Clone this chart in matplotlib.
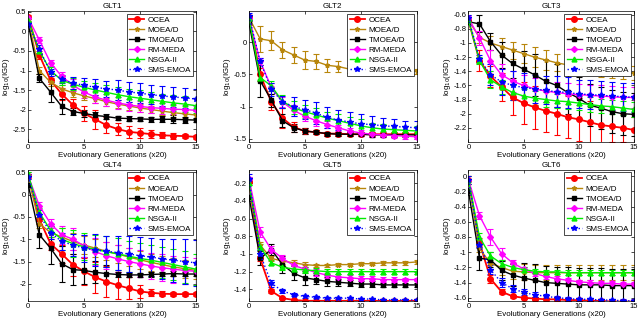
import numpy as np
import matplotlib
matplotlib.use("Agg")
import matplotlib.pyplot as plt
from matplotlib.lines import Line2D

plt.rcParams['font.family'] = ['Liberation Sans', 'DejaVu Sans']

gens = list(range(16))
algorithms = ["OCEA", "MOEA/D", "TMOEA/D", "RM-MEDA", "NSGA-II", "SMS-EMOA"]
titles = ["GLT1", "GLT2", "GLT3", "GLT4", "GLT5", "GLT6"]

# ---- GLT1 ----
glt1_mean = {
    "OCEA":     [0.38, -0.6, -1.25, -1.6, -1.88, -2.1, -2.25, -2.4, -2.5, -2.57, -2.6, -2.63, -2.66, -2.67, -2.68, -2.7],
    "MOEA/D":   [0.3, -1.0, -1.3, -1.47, -1.57, -1.65, -1.72, -1.8, -1.86, -1.91, -1.96, -2.0, -2.04, -2.08, -2.11, -2.14],
    "TMOEA/D":  [0.2, -1.2, -1.55, -1.92, -2.05, -2.1, -2.15, -2.18, -2.22, -2.23, -2.24, -2.25, -2.25, -2.25, -2.26, -2.27],
    "RM-MEDA":  [0.35, -0.22, -0.8, -1.15, -1.38, -1.55, -1.68, -1.76, -1.83, -1.88, -1.92, -1.95, -1.97, -1.99, -2.0, -2.02],
    "NSGA-II":  [0.3, -0.5, -1.0, -1.25, -1.35, -1.43, -1.5, -1.56, -1.62, -1.67, -1.71, -1.75, -1.79, -1.83, -1.86, -1.9],
    "SMS-EMOA": [0.2, -0.45, -1.05, -1.22, -1.32, -1.38, -1.43, -1.47, -1.5, -1.55, -1.58, -1.62, -1.65, -1.68, -1.7, -1.73],
}
glt1_err = {
    "OCEA":     [0.05, 0.1, 0.1, 0.15, 0.15, 0.2, 0.25, 0.2, 0.15, 0.15, 0.12, 0.1, 0.08, 0.08, 0.06, 0.05],
    "MOEA/D":   [0.03, 0.08, 0.1, 0.1, 0.1, 0.1, 0.1, 0.1, 0.1, 0.1, 0.1, 0.1, 0.1, 0.1, 0.1, 0.1],
    "TMOEA/D":  [0.03, 0.1, 0.25, 0.2, 0.1, 0.08, 0.08, 0.06, 0.06, 0.06, 0.06, 0.06, 0.08, 0.1, 0.08, 0.06],
    "RM-MEDA":  [0.03, 0.08, 0.08, 0.12, 0.15, 0.15, 0.15, 0.15, 0.15, 0.15, 0.15, 0.15, 0.15, 0.12, 0.12, 0.1],
    "NSGA-II":  [0.03, 0.08, 0.1, 0.12, 0.15, 0.15, 0.18, 0.2, 0.2, 0.2, 0.2, 0.2, 0.2, 0.2, 0.2, 0.2],
    "SMS-EMOA": [0.03, 0.1, 0.1, 0.1, 0.15, 0.2, 0.2, 0.2, 0.25, 0.25, 0.25, 0.25, 0.25, 0.25, 0.25, 0.25],
}
# ---- GLT2 ----
glt2_mean = {
    "OCEA":     [0.39, -0.5, -0.93, -1.18, -1.32, -1.38, -1.4, -1.42, -1.42, -1.43, -1.43, -1.43, -1.43, -1.43, -1.43, -1.43],
    "MOEA/D":   [0.38, 0.05, 0.02, -0.12, -0.2, -0.28, -0.3, -0.36, -0.38, -0.42, -0.43, -0.43, -0.44, -0.45, -0.45, -0.45],
    "TMOEA/D":  [0.3, -0.6, -0.9, -1.22, -1.33, -1.38, -1.4, -1.42, -1.43, -1.43, -1.43, -1.44, -1.44, -1.44, -1.44, -1.44],
    "RM-MEDA":  [0.38, -0.3, -0.7, -0.93, -1.06, -1.15, -1.22, -1.28, -1.33, -1.38, -1.41, -1.43, -1.44, -1.45, -1.46, -1.47],
    "NSGA-II":  [0.38, -0.55, -0.68, -0.92, -1.02, -1.08, -1.13, -1.18, -1.22, -1.26, -1.3, -1.33, -1.35, -1.36, -1.37, -1.38],
    "SMS-EMOA": [0.4, -0.3, -0.73, -0.93, -1.0, -1.05, -1.1, -1.17, -1.21, -1.24, -1.27, -1.28, -1.3, -1.31, -1.32, -1.33],
}
glt2_err = {
    "OCEA":     [0.03, 0.1, 0.12, 0.15, 0.08, 0.04, 0.03, 0.03, 0.03, 0.03, 0.03, 0.03, 0.03, 0.03, 0.03, 0.03],
    "MOEA/D":   [0.03, 0.2, 0.15, 0.12, 0.12, 0.14, 0.12, 0.1, 0.08, 0.06, 0.05, 0.05, 0.04, 0.04, 0.04, 0.04],
    "TMOEA/D":  [0.03, 0.25, 0.1, 0.1, 0.06, 0.04, 0.03, 0.03, 0.03, 0.03, 0.03, 0.03, 0.03, 0.03, 0.03, 0.03],
    "RM-MEDA":  [0.03, 0.05, 0.06, 0.08, 0.08, 0.08, 0.08, 0.06, 0.05, 0.05, 0.05, 0.04, 0.04, 0.04, 0.04, 0.03],
    "NSGA-II":  [0.03, 0.05, 0.08, 0.1, 0.1, 0.1, 0.1, 0.1, 0.1, 0.1, 0.1, 0.08, 0.08, 0.08, 0.07, 0.07],
    "SMS-EMOA": [0.05, 0.05, 0.1, 0.1, 0.15, 0.15, 0.17, 0.17, 0.15, 0.15, 0.15, 0.13, 0.12, 0.12, 0.1, 0.1],
}
# ---- GLT3 ----
glt3_mean = {
    "OCEA":     [-0.68, -1.25, -1.47, -1.62, -1.77, -1.85, -1.91, -1.96, -2.0, -2.05, -2.08, -2.12, -2.16, -2.18, -2.2, -2.23],
    "MOEA/D":   [-0.68, -0.92, -1.0, -1.05, -1.1, -1.15, -1.2, -1.24, -1.28, -1.31, -1.33, -1.36, -1.38, -1.39, -1.41, -1.43],
    "TMOEA/D":  [-0.7, -0.73, -0.98, -1.17, -1.29, -1.37, -1.45, -1.54, -1.6, -1.7, -1.78, -1.88, -1.92, -1.97, -2.0, -2.01],
    "RM-MEDA":  [-0.65, -0.93, -1.25, -1.45, -1.54, -1.6, -1.65, -1.68, -1.7, -1.72, -1.73, -1.74, -1.75, -1.76, -1.77, -1.77],
    "NSGA-II":  [-0.68, -1.25, -1.52, -1.62, -1.7, -1.75, -1.78, -1.8, -1.82, -1.83, -1.85, -1.87, -1.89, -1.9, -1.92, -1.94],
    "SMS-EMOA": [-0.65, -1.22, -1.45, -1.55, -1.6, -1.63, -1.65, -1.67, -1.69, -1.7, -1.72, -1.73, -1.74, -1.75, -1.76, -1.77],
}
glt3_err = {
    "OCEA":     [0.03, 0.15, 0.15, 0.2, 0.25, 0.3, 0.3, 0.3, 0.3, 0.3, 0.3, 0.3, 0.25, 0.22, 0.2, 0.18],
    "MOEA/D":   [0.03, 0.08, 0.1, 0.12, 0.12, 0.14, 0.14, 0.14, 0.12, 0.12, 0.1, 0.1, 0.1, 0.1, 0.1, 0.1],
    "TMOEA/D":  [0.03, 0.12, 0.12, 0.18, 0.2, 0.25, 0.3, 0.3, 0.3, 0.3, 0.3, 0.3, 0.3, 0.3, 0.3, 0.3],
    "RM-MEDA":  [0.03, 0.1, 0.15, 0.15, 0.15, 0.15, 0.15, 0.15, 0.15, 0.15, 0.15, 0.15, 0.15, 0.15, 0.15, 0.15],
    "NSGA-II":  [0.03, 0.05, 0.12, 0.1, 0.1, 0.1, 0.1, 0.1, 0.1, 0.1, 0.1, 0.1, 0.1, 0.1, 0.1, 0.1],
    "SMS-EMOA": [0.05, 0.05, 0.15, 0.18, 0.2, 0.2, 0.2, 0.2, 0.22, 0.22, 0.2, 0.2, 0.2, 0.2, 0.2, 0.2],
}
# ---- GLT4 ----
glt4_mean = {
    "OCEA":     [0.42, -0.55, -1.1, -1.33, -1.57, -1.72, -1.85, -1.95, -2.03, -2.1, -2.17, -2.2, -2.22, -2.23, -2.23, -2.23],
    "MOEA/D":   [0.4, -0.65, -0.85, -0.95, -1.05, -1.13, -1.2, -1.27, -1.33, -1.4, -1.46, -1.52, -1.57, -1.62, -1.66, -1.7],
    "TMOEA/D":  [0.22, -0.9, -1.2, -1.55, -1.68, -1.7, -1.74, -1.77, -1.79, -1.8, -1.8, -1.79, -1.78, -1.77, -1.78, -1.78],
    "RM-MEDA":  [0.42, -0.25, -0.65, -0.9, -1.0, -1.15, -1.28, -1.37, -1.44, -1.5, -1.55, -1.6, -1.64, -1.67, -1.7, -1.72],
    "NSGA-II":  [0.45, -0.4, -0.8, -1.0, -1.1, -1.17, -1.23, -1.28, -1.33, -1.38, -1.43, -1.47, -1.52, -1.57, -1.62, -1.67],
    "SMS-EMOA": [0.4, -0.45, -0.85, -1.05, -1.13, -1.2, -1.24, -1.27, -1.3, -1.33, -1.37, -1.4, -1.44, -1.47, -1.5, -1.53],
}
glt4_err = {
    "OCEA":     [0.05, 0.12, 0.15, 0.2, 0.25, 0.3, 0.35, 0.35, 0.3, 0.25, 0.15, 0.08, 0.06, 0.05, 0.05, 0.05],
    "MOEA/D":   [0.05, 0.1, 0.15, 0.2, 0.2, 0.2, 0.2, 0.2, 0.2, 0.2, 0.2, 0.2, 0.2, 0.2, 0.2, 0.2],
    "TMOEA/D":  [0.05, 0.3, 0.35, 0.4, 0.35, 0.3, 0.25, 0.2, 0.05, 0.05, 0.05, 0.05, 0.05, 0.05, 0.05, 0.05],
    "RM-MEDA":  [0.05, 0.08, 0.1, 0.2, 0.25, 0.25, 0.3, 0.3, 0.3, 0.3, 0.3, 0.3, 0.3, 0.3, 0.3, 0.3],
    "NSGA-II":  [0.05, 0.1, 0.15, 0.25, 0.3, 0.3, 0.33, 0.35, 0.35, 0.35, 0.35, 0.35, 0.35, 0.35, 0.35, 0.35],
    "SMS-EMOA": [0.05, 0.1, 0.15, 0.2, 0.25, 0.3, 0.35, 0.35, 0.38, 0.4, 0.42, 0.42, 0.45, 0.48, 0.5, 0.52],
}
# ---- GLT5 ----
glt5_mean = {
    "OCEA":     [-0.18, -1.05, -1.42, -1.5, -1.52, -1.53, -1.53, -1.53, -1.53, -1.53, -1.53, -1.53, -1.53, -1.53, -1.53, -1.53],
    "MOEA/D":   [-0.15, -0.9, -1.05, -1.08, -1.1, -1.12, -1.13, -1.13, -1.12, -1.12, -1.11, -1.11, -1.1, -1.1, -1.1, -1.09],
    "TMOEA/D":  [-0.35, -1.05, -0.95, -1.12, -1.22, -1.27, -1.29, -1.31, -1.32, -1.33, -1.34, -1.34, -1.35, -1.35, -1.35, -1.35],
    "RM-MEDA":  [-0.15, -0.75, -0.95, -1.05, -1.13, -1.17, -1.21, -1.24, -1.26, -1.27, -1.28, -1.28, -1.29, -1.29, -1.29, -1.29],
    "NSGA-II":  [-0.2, -0.92, -1.1, -1.15, -1.17, -1.18, -1.19, -1.2, -1.2, -1.2, -1.2, -1.2, -1.2, -1.2, -1.2, -1.2],
    "SMS-EMOA": [-0.15, -1.0, -1.33, -1.42, -1.46, -1.48, -1.49, -1.5, -1.5, -1.5, -1.51, -1.51, -1.52, -1.52, -1.52, -1.52],
}
glt5_err = {
    "OCEA":     [0.02, 0.03, 0.02, 0.01, 0.01, 0.01, 0.01, 0.01, 0.01, 0.01, 0.01, 0.01, 0.01, 0.01, 0.01, 0.01],
    "MOEA/D":   [0.02, 0.03, 0.03, 0.03, 0.03, 0.03, 0.02, 0.02, 0.02, 0.02, 0.02, 0.02, 0.02, 0.02, 0.02, 0.02],
    "TMOEA/D":  [0.02, 0.08, 0.06, 0.1, 0.08, 0.08, 0.05, 0.05, 0.04, 0.03, 0.03, 0.03, 0.02, 0.02, 0.02, 0.02],
    "RM-MEDA":  [0.02, 0.06, 0.04, 0.04, 0.04, 0.04, 0.04, 0.03, 0.03, 0.03, 0.03, 0.03, 0.03, 0.03, 0.02, 0.02],
    "NSGA-II":  [0.02, 0.03, 0.03, 0.03, 0.03, 0.03, 0.03, 0.03, 0.03, 0.03, 0.03, 0.03, 0.03, 0.03, 0.03, 0.03],
    "SMS-EMOA": [0.05, 0.04, 0.04, 0.02, 0.02, 0.02, 0.01, 0.01, 0.01, 0.01, 0.01, 0.01, 0.01, 0.01, 0.01, 0.01],
}
# ---- GLT6 ----
glt6_mean = {
    "OCEA":     [-0.05, -0.87, -1.35, -1.52, -1.58, -1.6, -1.61, -1.62, -1.62, -1.63, -1.63, -1.64, -1.64, -1.65, -1.65, -1.65],
    "MOEA/D":   [-0.05, -0.95, -1.15, -1.2, -1.25, -1.26, -1.27, -1.27, -1.27, -1.27, -1.27, -1.27, -1.27, -1.27, -1.27, -1.27],
    "TMOEA/D":  [-0.2, -1.08, -1.1, -1.24, -1.3, -1.34, -1.37, -1.4, -1.41, -1.42, -1.43, -1.43, -1.43, -1.44, -1.44, -1.44],
    "RM-MEDA":  [-0.05, -0.52, -0.8, -1.02, -1.14, -1.22, -1.28, -1.32, -1.35, -1.37, -1.39, -1.4, -1.41, -1.41, -1.42, -1.42],
    "NSGA-II":  [-0.05, -0.8, -1.05, -1.15, -1.2, -1.23, -1.25, -1.26, -1.26, -1.27, -1.27, -1.27, -1.27, -1.27, -1.27, -1.27],
    "SMS-EMOA": [-0.05, -0.9, -1.23, -1.4, -1.48, -1.53, -1.56, -1.58, -1.6, -1.61, -1.62, -1.62, -1.63, -1.63, -1.64, -1.64],
}
glt6_err = {
    "OCEA":     [0.05, 0.05, 0.05, 0.03, 0.02, 0.02, 0.02, 0.02, 0.02, 0.02, 0.02, 0.02, 0.02, 0.02, 0.02, 0.02],
    "MOEA/D":   [0.05, 0.05, 0.08, 0.1, 0.1, 0.1, 0.1, 0.1, 0.1, 0.1, 0.1, 0.1, 0.1, 0.1, 0.1, 0.1],
    "TMOEA/D":  [0.05, 0.15, 0.1, 0.12, 0.15, 0.2, 0.22, 0.22, 0.22, 0.22, 0.22, 0.22, 0.22, 0.22, 0.22, 0.22],
    "RM-MEDA":  [0.05, 0.05, 0.1, 0.08, 0.04, 0.03, 0.03, 0.03, 0.03, 0.03, 0.03, 0.03, 0.03, 0.03, 0.03, 0.03],
    "NSGA-II":  [0.05, 0.05, 0.05, 0.05, 0.04, 0.03, 0.03, 0.03, 0.03, 0.03, 0.03, 0.03, 0.03, 0.03, 0.03, 0.03],
    "SMS-EMOA": [0.05, 0.05, 0.06, 0.06, 0.05, 0.04, 0.03, 0.03, 0.02, 0.02, 0.02, 0.02, 0.02, 0.02, 0.02, 0.02],
}

means = [glt1_mean, glt2_mean, glt3_mean, glt4_mean, glt5_mean, glt6_mean]
errs = [glt1_err, glt2_err, glt3_err, glt4_err, glt5_err, glt6_err]
ylims = [(-2.83, 0.52), (-1.55, 0.48), (-2.4, -0.55), (-2.38, 0.55), (-1.53, -0.05), (-1.64, 0.08)]
yticks = [
    [-2.5, -2, -1.5, -1, -0.5, 0, 0.5],
    [-1.5, -1, -0.5, 0],
    [-2.2, -2, -1.8, -1.6, -1.4, -1.2, -1, -0.8, -0.6],
    [-2, -1.5, -1, -0.5, 0, 0.5],
    [-1.4, -1.2, -1, -0.8, -0.6, -0.4, -0.2],
    [-1.6, -1.4, -1.2, -1, -0.8, -0.6, -0.4, -0.2, 0],
]

styles = {
    "OCEA":     dict(color="#ff0000", marker="o", ls="-", ms=4.0, lw=1.3),
    "MOEA/D":   dict(color="#b8860b", marker="*", ls="-", ms=3.5, lw=1.0),
    "TMOEA/D":  dict(color="#000000", marker="s", ls="-", ms=3.5, lw=1.0),
    "RM-MEDA":  dict(color="#ff00ff", marker="D", ls="-", ms=3.0, lw=1.0),
    "NSGA-II":  dict(color="#00ee00", marker="^", ls="-", ms=3.5, lw=1.0),
    "SMS-EMOA": dict(color="#0000ff", marker="*", ls=":", ms=4.0, lw=1.0),
}

fig = plt.figure(figsize=(6.4, 3.19), dpi=100)
lefts = [0.044, 0.389, 0.732]
widths = [0.262, 0.262, 0.258]
bottoms = [0.555, 0.057]
h = 0.41

for i in range(6):
    r, c = divmod(i, 3)
    ax = fig.add_axes([lefts[c], bottoms[r], widths[c], h])
    for alg in algorithms:
        st = styles[alg]
        ax.errorbar(gens, means[i][alg], yerr=errs[i][alg], color=st["color"],
                    marker=st["marker"], ls=st["ls"], ms=st["ms"], lw=st["lw"],
                    elinewidth=0.8, capsize=2, capthick=0.8, label=alg)
    ax.set_xlim(0, 15)
    ax.set_ylim(*ylims[i])
    ax.set_xticks([0, 5, 10, 15])
    ax.set_yticks(yticks[i])
    ax.set_yticklabels([("%g" % t) for t in yticks[i]])
    ax.tick_params(direction="in", labelsize=5.5, length=2, width=0.5, pad=1.5, top=True, right=True)
    for s in ax.spines.values():
        s.set_linewidth(0.5)
    ax.set_title(titles[i], fontsize=5.8, pad=2)
    ax.set_xlabel("Evolutionary Generations (x20)", fontsize=5.7, labelpad=0.5)
    ax.set_ylabel("log$_{10}$(IGD)", fontsize=5.7, labelpad=0.5)
    hl = [Line2D([], [], color=styles[a]["color"], marker=styles[a]["marker"],
                 ls=styles[a]["ls"], ms=styles[a]["ms"], lw=styles[a]["lw"]) for a in algorithms]
    leg = ax.legend(hl, algorithms, loc="upper right", fontsize=5.8, frameon=True,
                    fancybox=False, edgecolor="black", handlelength=1.9,
                    labelspacing=0.3, borderpad=0.3, handletextpad=0.4,
                    borderaxespad=0.3, framealpha=1)
    leg.get_frame().set_linewidth(0.5)

fig.savefig("out.png", dpi=100)
